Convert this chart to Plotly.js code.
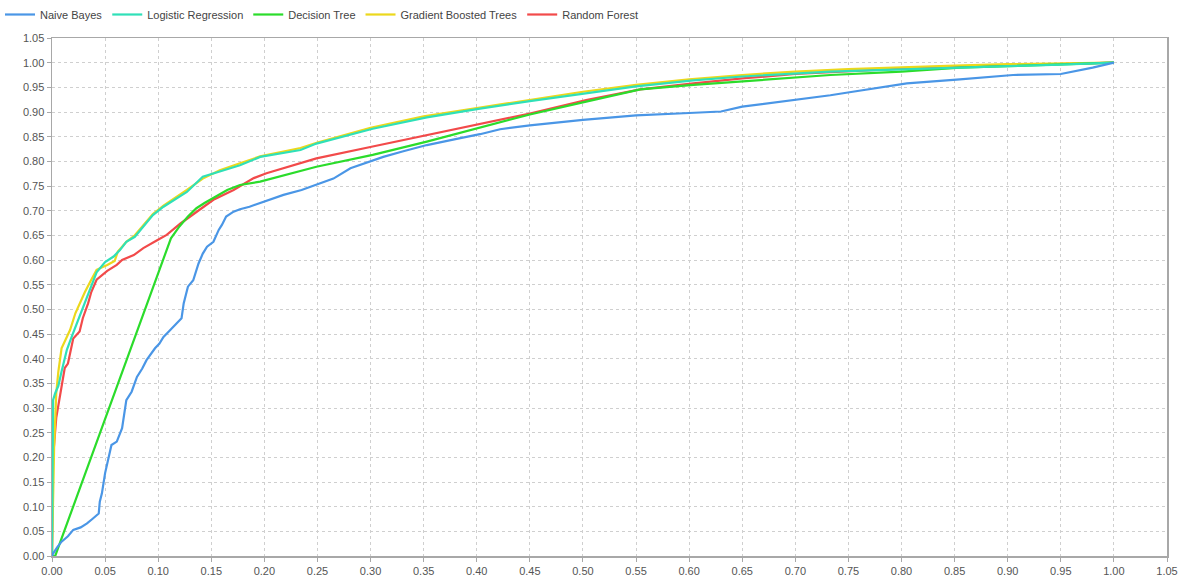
<!DOCTYPE html>
<html>
<head>
<meta charset="utf-8">
<script src="https://cdn.plot.ly/plotly-3.0.1.min.js"></script>
<style>html,body{margin:0;padding:0;background:#fff;}#chart{width:1194px;height:581px;}</style>
</head>
<body>
<div id="chart"></div>
<script>
const seriesNames = ["Naive Bayes", "Logistic Regression", "Decision Tree", "Gradient Boosted Trees", "Random Forest"];

const nbFpr = [0, 0.001, 0.005, 0.009, 0.015, 0.02, 0.027, 0.033, 0.038, 0.044, 0.045, 0.047, 0.05, 0.056, 0.061, 0.066, 0.070, 0.075, 0.080, 0.085, 0.089, 0.093, 0.097, 0.101, 0.105, 0.11, 0.117, 0.122, 0.124, 0.128, 0.133, 0.138, 0.142, 0.146, 0.152, 0.157, 0.160, 0.164, 0.171, 0.177, 0.186, 0.2, 0.218, 0.235, 0.249, 0.265, 0.281, 0.3, 0.312, 0.33, 0.353, 0.38, 0.403, 0.422, 0.45, 0.5, 0.55, 0.6, 0.63, 0.65, 0.7, 0.733, 0.754, 0.805, 0.855, 0.905, 0.95, 0.965, 0.98, 1.0];
const nbTpr = [0, 0.005, 0.018, 0.029, 0.04, 0.053, 0.058, 0.066, 0.075, 0.086, 0.11, 0.127, 0.168, 0.225, 0.232, 0.259, 0.316, 0.333, 0.363, 0.38, 0.397, 0.41, 0.421, 0.43, 0.444, 0.455, 0.472, 0.482, 0.512, 0.546, 0.559, 0.593, 0.613, 0.627, 0.637, 0.661, 0.671, 0.688, 0.698, 0.703, 0.708, 0.718, 0.732, 0.742, 0.752, 0.765, 0.786, 0.80, 0.809, 0.82, 0.833, 0.845, 0.855, 0.865, 0.873, 0.884, 0.893, 0.898, 0.901, 0.911, 0.924, 0.934, 0.941, 0.958, 0.966, 0.975, 0.977, 0.983, 0.99, 1.0];

const lrFpr = [0, 0.001, 0.003, 0.006, 0.009, 0.014, 0.0185, 0.025, 0.03, 0.036, 0.042, 0.05, 0.058, 0.064, 0.070, 0.078, 0.086, 0.095, 0.105, 0.117, 0.127, 0.142, 0.158, 0.177, 0.196, 0.234, 0.249, 0.302, 0.353, 0.403, 0.45, 0.503, 0.55, 0.604, 0.65, 0.733, 0.8, 0.855, 0.9, 0.95, 1.0];
const lrTpr = [0, 0.316, 0.33, 0.345, 0.374, 0.418, 0.444, 0.48, 0.51, 0.545, 0.575, 0.596, 0.607, 0.62, 0.637, 0.647, 0.667, 0.691, 0.708, 0.725, 0.738, 0.769, 0.779, 0.792, 0.809, 0.823, 0.836, 0.866, 0.889, 0.907, 0.922, 0.938, 0.952, 0.964, 0.972, 0.982, 0.987, 0.99, 0.993, 0.996, 1.0];

const dtFpr = [0, 0.003, 0.112, 0.12, 0.128, 0.136, 0.144, 0.155, 0.165, 0.177, 0.196, 0.249, 0.302, 0.353, 0.403, 0.45, 0.503, 0.554, 0.604, 0.65, 0.733, 0.8, 0.855, 0.9, 0.95, 1.0];
const dtTpr = [0, 0, 0.644, 0.668, 0.688, 0.705, 0.716, 0.73, 0.742, 0.752, 0.759, 0.789, 0.813, 0.840, 0.869, 0.895, 0.921, 0.946, 0.955, 0.962, 0.975, 0.982, 0.99, 0.993, 0.997, 1.0];

const gbtFpr = [0, 0.002, 0.004, 0.006, 0.009, 0.017, 0.022, 0.026, 0.031, 0.036, 0.042, 0.052, 0.059, 0.062, 0.070, 0.078, 0.086, 0.095, 0.105, 0.117, 0.127, 0.142, 0.158, 0.177, 0.196, 0.234, 0.25, 0.3, 0.35, 0.4, 0.45, 0.5, 0.55, 0.6, 0.65, 0.7, 0.75, 0.8, 0.85, 0.9, 1.0];
const gbtTpr = [0, 0.22, 0.33, 0.374, 0.421, 0.458, 0.492, 0.512, 0.535, 0.556, 0.58, 0.59, 0.598, 0.617, 0.637, 0.65, 0.67, 0.693, 0.71, 0.727, 0.742, 0.765, 0.782, 0.796, 0.81, 0.827, 0.838, 0.868, 0.891, 0.908, 0.925, 0.941, 0.955, 0.966, 0.975, 0.982, 0.987, 0.991, 0.994, 0.997, 1.0];

const rfFpr = [0, 0.001, 0.004, 0.009, 0.012, 0.015, 0.02, 0.026, 0.029, 0.034, 0.037, 0.042, 0.052, 0.061, 0.066, 0.077, 0.086, 0.099, 0.108, 0.121, 0.136, 0.152, 0.171, 0.19, 0.202, 0.234, 0.249, 0.302, 0.353, 0.403, 0.422, 0.45, 0.503, 0.554, 0.604, 0.65, 0.7, 0.75, 0.8, 0.85, 0.9, 1.0];
const rfTpr = [0, 0.2, 0.28, 0.34, 0.381, 0.39, 0.441, 0.455, 0.482, 0.512, 0.535, 0.56, 0.578, 0.59, 0.60, 0.61, 0.624, 0.64, 0.651, 0.674, 0.698, 0.722, 0.742, 0.766, 0.776, 0.796, 0.806, 0.83, 0.853, 0.877, 0.885, 0.897, 0.924, 0.946, 0.958, 0.968, 0.977, 0.983, 0.988, 0.992, 0.995, 1.0];

const colors = ["#4a96e6", "#2fe0b8", "#2bdc2b", "#ecd81c", "#f24a4a"];
const xs = [nbFpr, lrFpr, dtFpr, gbtFpr, rfFpr];
const ys = [nbTpr, lrTpr, dtTpr, gbtTpr, rfTpr];

const traces = [];
for (let i = seriesNames.length - 1; i >= 0; i--) {
  traces.push({
    type: "scatter", mode: "lines", name: seriesNames[i],
    x: xs[i], y: ys[i],
    line: {color: colors[i], width: 2.2},
    hoverinfo: "x+y+name"
  });
}

const axisCommon = {
  range: [0, 1.05], dtick: 0.05, tick0: 0, tickformat: ".2f",
  showgrid: true, gridcolor: "#cfcfcf", griddash: "dot", gridwidth: 1,
  zeroline: false, showline: true, linecolor: "#a8a8a8", linewidth: 1.5, mirror: true,
  ticks: "outside", ticklen: 4, tickcolor: "#a8a8a8",
  tickfont: {family: "Liberation Sans, Arial, sans-serif", size: 11, color: "#555"},
  automargin: false, fixedrange: true
};

const layout = {
  width: 1194, height: 581,
  margin: {l: 52, r: 27, t: 38, b: 25},
  paper_bgcolor: "#fff", plot_bgcolor: "#fff",
  xaxis: Object.assign({}, axisCommon),
  yaxis: Object.assign({}, axisCommon),
  showlegend: true,
  legend: {
    orientation: "h", traceorder: "reversed",
    xref: "container", yref: "container",
    x: 0, y: 1, xanchor: "left", yanchor: "top",
    font: {family: "Liberation Sans, Arial, sans-serif", size: 11, color: "#444"},
    itemwidth: 30, bgcolor: "rgba(0,0,0,0)"
  }
};

Plotly.newPlot("chart", traces, layout, {displayModeBar: false, staticPlot: true});
</script>
</body>
</html>
